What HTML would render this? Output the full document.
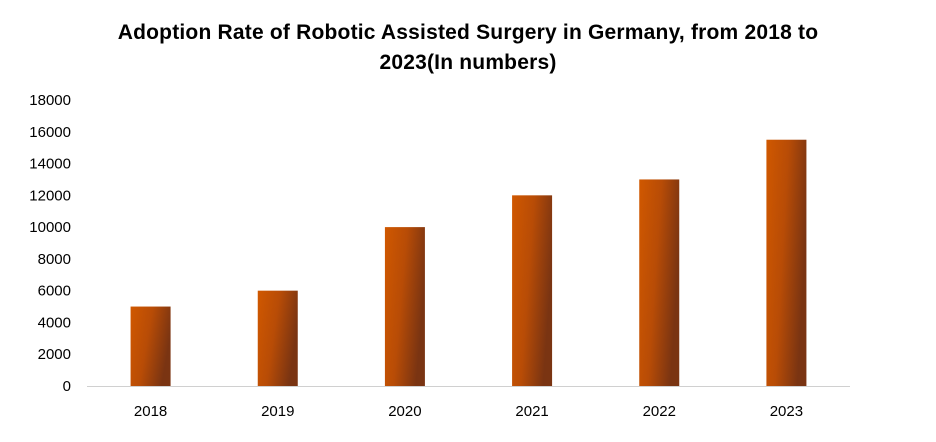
<!DOCTYPE html>
<html><head><meta charset="utf-8"><style>
body{margin:0;background:#fff;width:936px;height:437px;overflow:hidden;font-family:"Liberation Sans",Arial,sans-serif}
</style></head><body>
<svg id="chart" width="936" height="437" xmlns="http://www.w3.org/2000/svg">
<defs>
<linearGradient id="bg" x1="0" y1="0" x2="1" y2="0.35">
<stop offset="0" stop-color="#d05800"/>
<stop offset="0.5" stop-color="#b84c06"/>
<stop offset="1" stop-color="#7a3412"/>
</linearGradient>
</defs>
<text x="468" y="39" text-anchor="middle" font-size="21" font-weight="bold" letter-spacing="0.2" fill="#000">Adoption Rate of Robotic Assisted Surgery in Germany, from 2018 to</text>
<text x="468" y="69" text-anchor="middle" font-size="21" font-weight="bold" letter-spacing="0.2" fill="#000">2023(In numbers)</text>
<g id="yaxis"></g>
<line x1="87" y1="386.5" x2="850" y2="386.5" stroke="#d0d0d0" stroke-width="1"/>
<g id="bars"></g>
<g id="xlabels"></g>
</svg>
<script>
const categories = ["2018","2019","2020","2021","2022","2023"];
const values = [5000,6000,10000,12000,13000,15500];
const yTicks = [0,2000,4000,6000,8000,10000,12000,14000,16000,18000];
const NS="http://www.w3.org/2000/svg";
const x0=87,x1=850,yBase=386,yTop=100,yMax=18000;
function y(v){return yBase-(v/yMax)*(yBase-yTop);}
function xc(i){return x0+(x1-x0)/categories.length*(i+0.5);}
const ya=document.getElementById('yaxis');
yTicks.forEach(t=>{
 const tx=document.createElementNS(NS,'text');
 
 
 tx.setAttribute('x',71);tx.setAttribute('y',y(t)+5);
 tx.setAttribute('text-anchor','end');tx.setAttribute('font-size','15');
 tx.textContent=t;ya.appendChild(tx);
});
const bg=document.getElementById('bars'),xl=document.getElementById('xlabels');
categories.forEach((c,i)=>{
 const r=document.createElementNS(NS,'rect');
 
 
 r.setAttribute('x',xc(i)-20);r.setAttribute('width',40);
 r.setAttribute('y',y(values[i]));r.setAttribute('height',yBase-y(values[i]));
 r.setAttribute('fill','url(#bg)');bg.appendChild(r);
 const t=document.createElementNS(NS,'text');
 
 
 t.setAttribute('x',xc(i));t.setAttribute('y',416);
 t.setAttribute('text-anchor','middle');t.setAttribute('font-size','15');
 t.textContent=c;xl.appendChild(t);
});
</script>
</body></html>
